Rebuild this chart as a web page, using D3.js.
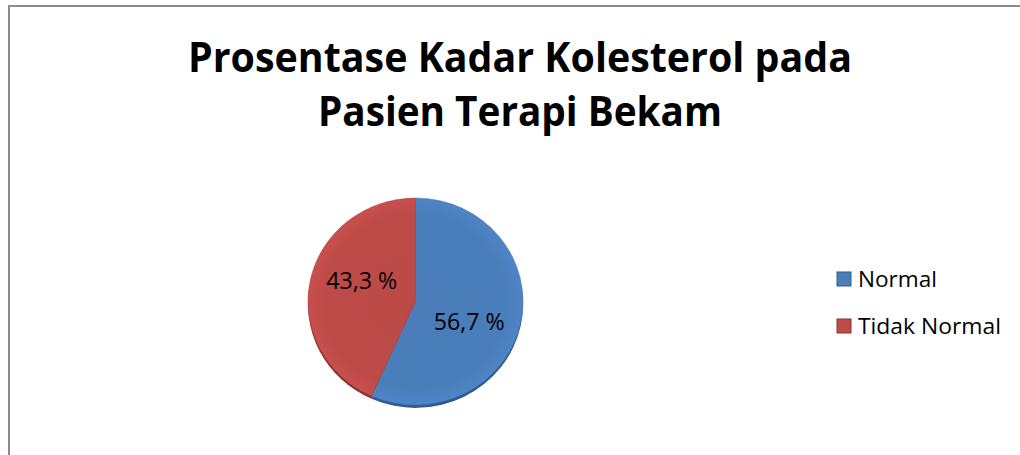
<!DOCTYPE html>
<html>
<head>
<meta charset="utf-8">
<script src="https://cdn.jsdelivr.net/npm/d3@7"></script>
<style>
  html, body { margin: 0; padding: 0; background: #fff; }
  text { font-family: "Open Sans", "Noto Sans", sans-serif; }
</style>
</head>
<body>
<div id="chart"></div>
<script>
// data
const categories = ["Normal", "Tidak Normal"];
const values = [56.7, 43.3];
const valueLabels = ["56,7 %", "43,3 %"];
const colors = ["#4a7ebb", "#be4b48"];
const darkColors = ["#2f5a8c", "#8c3331"];
const titleLines = ["Prosentase Kadar Kolesterol pada", "Pasien Terapi Bekam"];

const canvasWidth = 1020;
const canvasHeight = 455;

const svg = d3.select("#chart")
  .append("svg")
  .attr("width", canvasWidth)
  .attr("height", canvasHeight);

// frame (only top and left edges visible)
svg.append("line")
  .attr("x1", 8).attr("y1", 6).attr("x2", canvasWidth).attr("y2", 6)
  .attr("stroke", "#8c8c8c").attr("stroke-width", 2);
svg.append("line")
  .attr("x1", 9).attr("y1", 5).attr("x2", 9).attr("y2", canvasHeight)
  .attr("stroke", "#8c8c8c").attr("stroke-width", 2);

// title
const titleWidths = [664, 404];
svg.selectAll(".title")
  .data(titleLines)
  .enter()
  .append("text")
  .attr("class", "title")
  .attr("x", 520)
  .attr("y", (d, i) => 72 + i * 54)
  .attr("text-anchor", "middle")
  .attr("font-size", 41)
  .attr("font-weight", "bold")
  .attr("fill", "#000")
  .attr("textLength", (d, i) => titleWidths[i])
  .attr("lengthAdjust", "spacingAndGlyphs")
  .text(d => d);

// pie
const cx = 415.5, cy = 301.5, rx = 107.5, ry = 103.5;
const pie = d3.pie().sort(null).value(d => d);
const arcs = pie(values);
const arc = d3.arc().innerRadius(0).outerRadius(rx);

const defs = svg.append("defs");
colors.forEach((c, i) => {
  const g = defs.append("radialGradient")
    .attr("id", "grad" + i)
    .attr("gradientUnits", "userSpaceOnUse")
    .attr("cx", 0).attr("cy", 0).attr("r", rx);
  g.append("stop").attr("offset", "0%").attr("stop-color", d3.color(c).darker(0.05));
  g.append("stop").attr("offset", "85%").attr("stop-color", c);
  g.append("stop").attr("offset", "100%").attr("stop-color", d3.color(c).brighter(0.15));
});

const pieG = svg.append("g")
  .attr("transform", `translate(${cx},${cy}) scale(1,${ry / rx})`);

// bottom rim / shadow
pieG.selectAll(".rim")
  .data(arcs)
  .enter()
  .append("path")
  .attr("class", "rim")
  .attr("d", arc)
  .attr("transform", "translate(0,3)")
  .attr("fill", (d, i) => darkColors[i]);

pieG.selectAll(".slice")
  .data(arcs)
  .enter()
  .append("path")
  .attr("class", "slice")
  .attr("d", arc)
  .attr("fill", (d, i) => `url(#grad${i})`)
  .attr("stroke", (d, i) => d3.color(colors[i]).darker(0.3))
  .attr("stroke-width", 0.5);

// value labels
const labelArc = d3.arc().innerRadius(55).outerRadius(55);
svg.selectAll(".vlabel")
  .data(arcs)
  .enter()
  .append("text")
  .attr("class", "vlabel")
  .attr("x", d => cx + labelArc.centroid(d)[0])
  .attr("y", d => cy + labelArc.centroid(d)[1] * 1.75 + 8)
  .attr("text-anchor", "middle")
  .attr("font-size", 23)
  .attr("fill", "#000")
  .attr("textLength", 71)
  .attr("lengthAdjust", "spacingAndGlyphs")
  .text((d, i) => valueLabels[i]);

// legend
const legendWidths = [79, 143];
const legend = svg.selectAll(".legend")
  .data(categories)
  .enter()
  .append("g")
  .attr("class", "legend")
  .attr("transform", (d, i) => `translate(837,${272 + i * 47})`);

legend.append("rect")
  .attr("width", 14).attr("height", 14)
  .attr("fill", (d, i) => colors[i])
  .attr("stroke", (d, i) => darkColors[i])
  .attr("stroke-width", 1);

legend.append("text")
  .attr("x", 21)
  .attr("y", 15)
  .attr("font-size", 21)
  .attr("fill", "#000")
  .attr("textLength", (d, i) => legendWidths[i])
  .attr("lengthAdjust", "spacingAndGlyphs")
  .text(d => d);
</script>
</body>
</html>
